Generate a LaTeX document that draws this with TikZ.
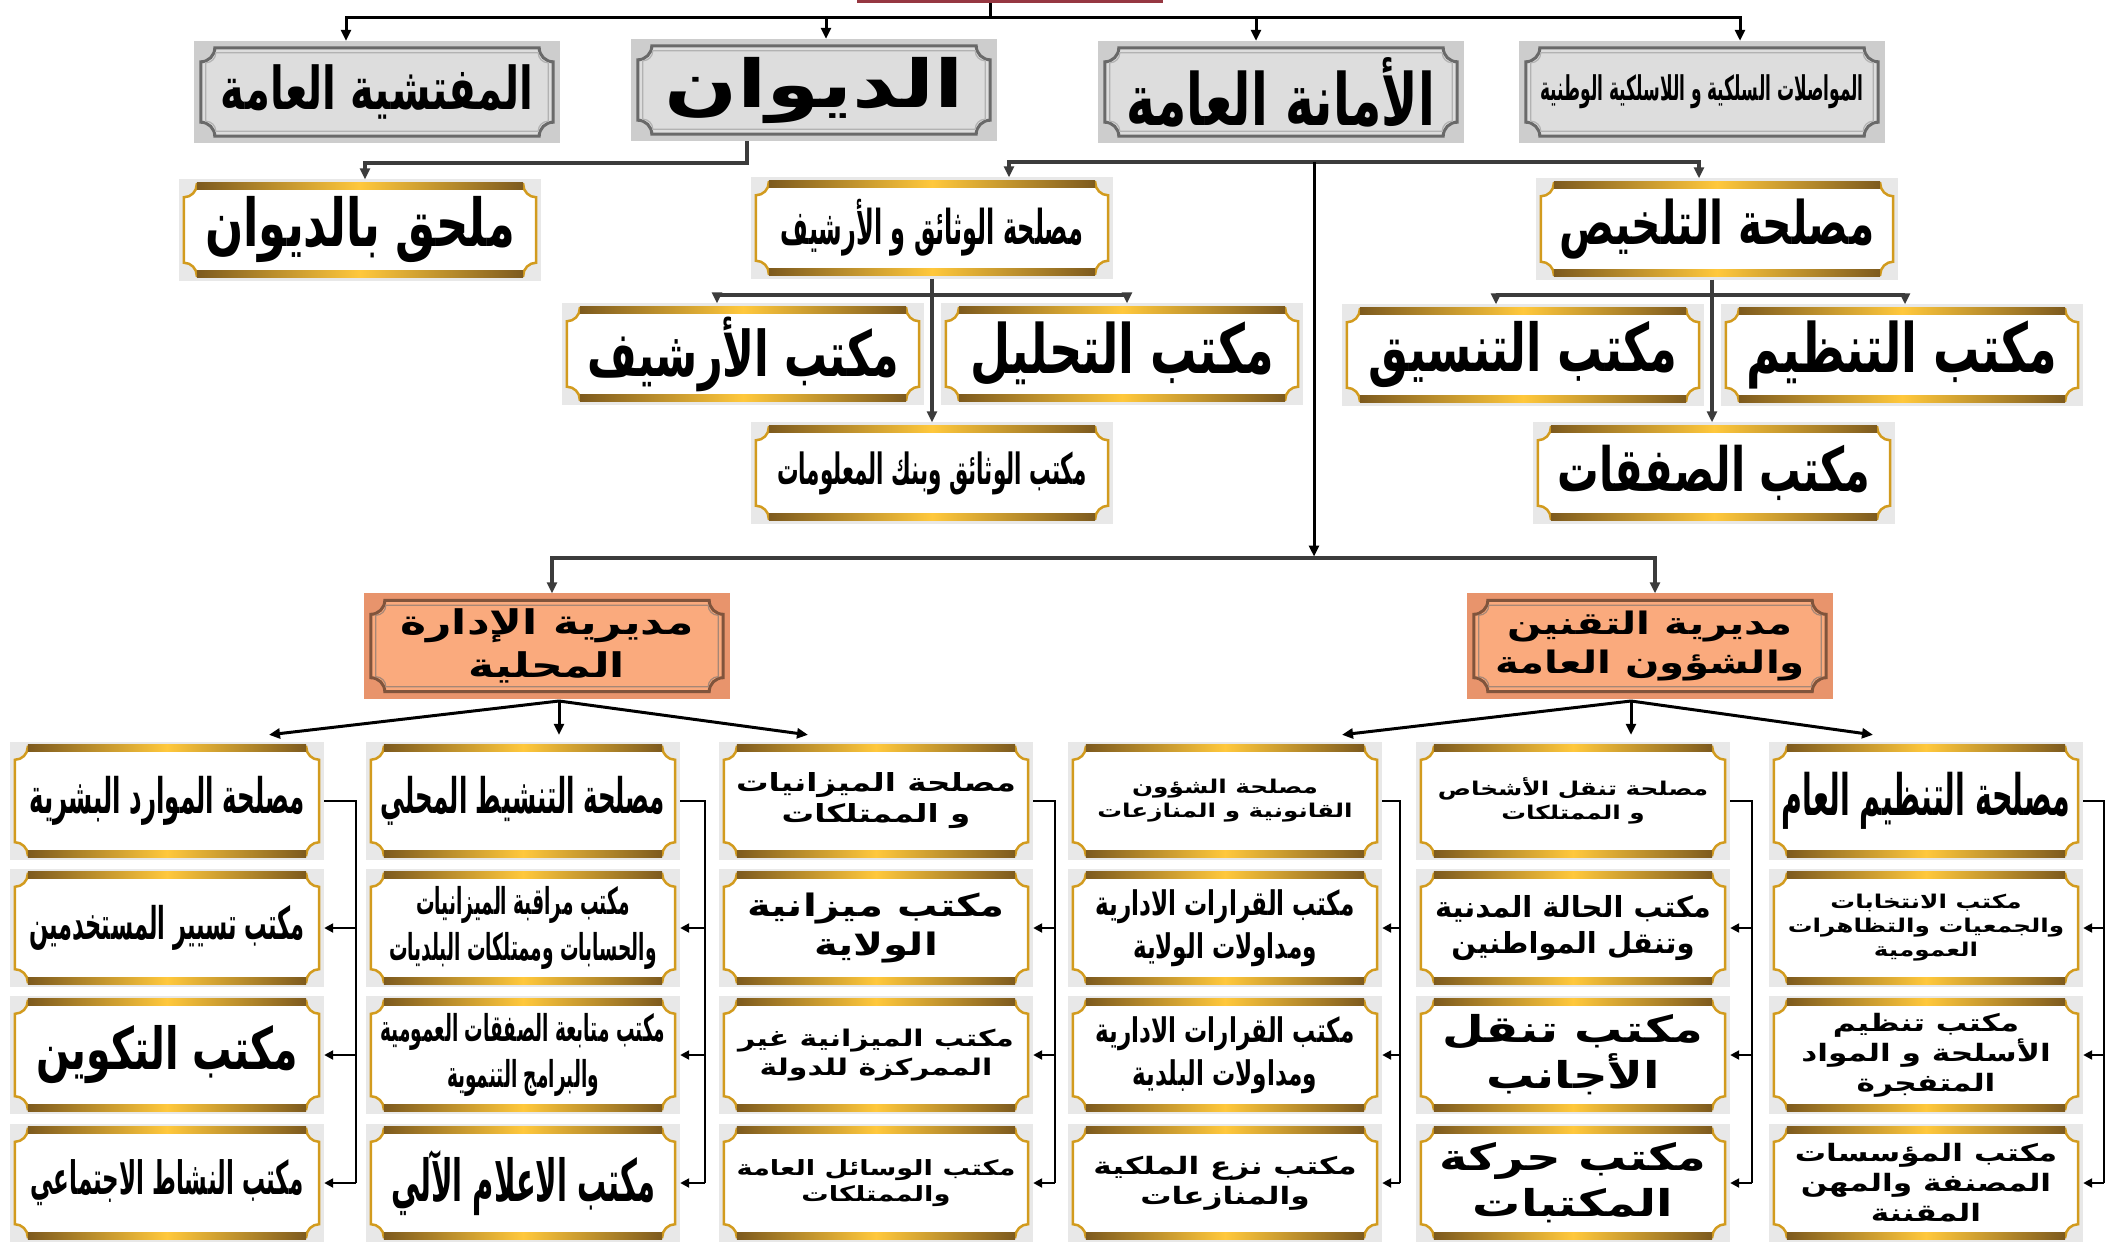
\documentclass[tikz,border=0pt]{standalone}
\usepackage{fontspec}
\newfontfamily\arX[Script=Arabic,FakeStretch=0.5]{DejaVu Sans}
\newfontfamily\arN[Script=Arabic,FakeStretch=0.68]{DejaVu Sans}
\newfontfamily\arM[Script=Arabic,FakeStretch=1.0]{DejaVu Sans}
\newfontfamily\arW[Script=Arabic,FakeStretch=1.3]{DejaVu Sans}
\TeXXeTstate=1
\usetikzlibrary{arrows.meta,backgrounds}
\definecolor{goldA}{RGB}{210,155,30}
\definecolor{goldD}{RGB}{125,90,30}
\definecolor{goldL}{RGB}{255,200,60}
\definecolor{grayF}{RGB}{221,221,221}
\definecolor{grayO}{RGB}{205,205,205}
\definecolor{grayL}{RGB}{105,105,105}
\definecolor{salF}{RGB}{250,170,125}
\definecolor{salO}{RGB}{232,148,108}
\definecolor{salL}{RGB}{128,84,60}
\definecolor{topred}{RGB}{150,55,65}
\definecolor{cornergray}{RGB}{232,232,232}
\definecolor{lineg}{RGB}{60,60,60}
\newcommand\ar[1]{\beginR #1\endR}
\newcommand\fsz[1]{\fontsize{#1}{\the\numexpr#1*5/4\relax}\selectfont}
\newcommand\notchp[3]{([xshift=#2+#3,yshift=-#2]#1.north west) -- ([xshift=-#2-#3,yshift=-#2]#1.north east) arc[start angle=180,end angle=270,radius=#3] -- ([xshift=-#2,yshift=#2+#3]#1.south east) arc[start angle=90,end angle=180,radius=#3] -- ([xshift=#2+#3,yshift=#2]#1.south west) arc[start angle=0,end angle=90,radius=#3] -- ([xshift=#2,yshift=-#2-#3]#1.north west) arc[start angle=270,end angle=360,radius=#3] -- cycle}
\newcommand\gldframe[1]{%
 \fill[cornergray] (#1.north west) rectangle (#1.south east);
 \path[fill=white,draw=goldA,line width=2.5pt] \notchp{#1}{5pt}{13pt};
 \shade[left color=goldD,right color=goldD,middle color=goldL] ([xshift=18pt,yshift=-3pt]#1.north west) rectangle ([xshift=-18pt,yshift=-10pt]#1.north east);
 \shade[left color=goldD,right color=goldD,middle color=goldL] ([xshift=18pt,yshift=3pt]#1.south west) rectangle ([xshift=-18pt,yshift=10pt]#1.south east);}
\newcommand\gryframe[1]{%
 \fill[grayO] (#1.north west) rectangle (#1.south east);
 \path[fill=grayF,draw=grayL,line width=3pt] \notchp{#1}{7pt}{14pt};
 \path[draw=gray!60,line width=1.2pt] \notchp{#1}{12pt}{10pt};}
\newcommand\salframe[1]{%
 \fill[salO] (#1.north west) rectangle (#1.south east);
 \path[fill=salF,draw=salL,line width=3pt] \notchp{#1}{7pt}{14pt};
 \path[draw=salL!70,line width=1.2pt] \notchp{#1}{12pt}{10pt};}
\begin{document}
\begin{tikzpicture}[x=1pt,y=-1pt,
 box/.style={inner sep=0pt,align=center,text=black},
 fx/.style={font=\arX\bfseries\fsz{#1}},
 fs/.style={font=\arN\bfseries\fsz{#1}},
 fm/.style={font=\arM\bfseries\fsz{#1}},
 fw/.style={font=\arW\bfseries\fsz{#1}},
 grybox/.style={box,minimum width=366pt,minimum height=102pt},
 gldbox/.style={box,minimum width=362pt,minimum height=101pt},
 salbox/.style={box,minimum width=366pt,minimum height=105pt},
 botbox/.style={box,minimum width=314pt,minimum height=118pt},
 ln/.style={line width=3pt,black},
 lnm/.style={line width=3.5pt,lineg},
 arr/.style={-{Triangle[length=11pt,width=10pt]},line width=3pt,black},
 arrm/.style={-{Triangle[length=11pt,width=10pt]},line width=3.5pt,lineg},
 arrs/.style={-{Triangle[length=9pt,width=9pt]},line width=2.5pt,black},
 rail/.style={line width=2.5pt,black}]
\useasboundingbox (0,0) rectangle (2127,1243);
\begin{scope}[on background layer]
 \fill[white] (0,0) rectangle (2127,1243);
\end{scope}
% top (cut) box
\node[fill=topred,minimum width=306pt,minimum height=8pt,inner sep=0pt,anchor=south] (top) at (1010,3) {};
% row 1
\node[grybox,fs=59] (insp) at (377,92) {\ar{المفتشية العامة}};
\node[grybox,fw=66] (diwan) at (814,90) {\ar{الديوان}};
\node[grybox,fs=72] (amana) at (1281,92) {\ar{الأمانة العامة}};
\node[grybox,fx=34] (telecom) at (1702,92) {\ar{المواصلات السلكية و اللاسلكية الوطنية}};
% row 2
\node[gldbox,fs=66] (mulhaq) at (360,230) {\ar{ملحق بالديوان}};
\node[gldbox,fx=48] (wathaiq) at (932,228) {\ar{مصلحة الوثائق و الأرشيف}};
\node[gldbox,fs=60] (talkhis) at (1717,229) {\ar{مصلحة التلخيص}};
% row 3
\node[gldbox,fs=63] (arshif) at (743,354) {\ar{مكتب الأرشيف}};
\node[gldbox,fs=68] (tahlil) at (1122,354) {\ar{مكتب التحليل}};
\node[gldbox,fs=66] (tansiq) at (1523,355) {\ar{مكتب التنسيق}};
\node[gldbox,fs=68] (tanzim) at (1902,355) {\ar{مكتب التنظيم}};
% row 4
\node[gldbox,fx=43] (mwathaiq) at (932,473) {\ar{مكتب الوثائق وبنك المعلومات}};
\node[gldbox,fs=61] (safaqat) at (1714,473) {\ar{مكتب الصفقات}};
% directorates
\node[salbox,fw=34] (salL) at (547,646) {\ar{مديرية الإدارة}\\\ar{المحلية}};
\node[salbox,fw=31] (salR) at (1650,646) {\ar{مديرية التقنين}\\\ar{والشؤون العامة}};
% bottom columns
\node[botbox,fx=49] (b11) at (167,801) {\ar{مصلحة الموارد البشرية}};
\node[botbox,fx=45] (b12) at (167,928) {\ar{مكتب تسيير المستخدمين}};
\node[botbox,fs=58] (b13) at (167,1055) {\ar{مكتب التكوين}};
\node[botbox,fx=46] (b14) at (167,1183) {\ar{مكتب النشاط الاجتماعي}};
\node[botbox,fx=49] (b21) at (523,801) {\ar{مصلحة التنشيط المحلي}};
\node[botbox,fx=37] (b22) at (523,928) {\ar{مكتب مراقبة الميزانيات}\\\ar{والحسابات وممتلكات البلديات}};
\node[botbox,fx=37] (b23) at (523,1055) {\ar{مكتب متابعة الصفقات العمومية}\\\ar{والبرامج التنموية}};
\node[botbox,fx=58] (b24) at (523,1183) {\ar{مكتب الاعلام الآلي}};
\node[botbox,fw=25] (b31) at (876,801) {\ar{مصلحة الميزانيات}\\\ar{و الممتلكات}};
\node[botbox,fw=31] (b32) at (876,928) {\ar{مكتب ميزانية}\\\ar{الولاية}};
\node[botbox,fw=23] (b33) at (876,1055) {\ar{مكتب الميزانية غير}\\\ar{الممركزة للدولة}};
\node[botbox,fw=21] (b34) at (876,1183) {\ar{مكتب الوسائل العامة}\\\ar{والممتلكات}};
\node[botbox,fw=19] (b41) at (1225,801) {\ar{مصلحة الشؤون}\\\ar{القانونية و المنازعات}};
\node[botbox,fs=34] (b42) at (1225,928) {\ar{مكتب القرارات الادارية}\\\ar{ومداولات الولاية}};
\node[botbox,fs=34] (b43) at (1225,1055) {\ar{مكتب القرارات الادارية}\\\ar{ومداولات البلدية}};
\node[botbox,fw=24] (b44) at (1225,1183) {\ar{مكتب نزع الملكية}\\\ar{والمنازعات}};
\node[botbox,fw=19] (b51) at (1573,801) {\ar{مصلحة تنقل الأشخاص}\\\ar{و الممتلكات}};
\node[botbox,fm=29] (b52) at (1573,928) {\ar{مكتب الحالة المدنية}\\\ar{وتنقل المواطنين}};
\node[botbox,fw=37] (b53) at (1573,1055) {\ar{مكتب تنقل}\\\ar{الأجانب}};
\node[botbox,fw=37] (b54) at (1573,1183) {\ar{مكتب حركة}\\\ar{المكتبات}};
\node[botbox,fx=57] (b61) at (1926,801) {\ar{مصلحة التنظيم العام}};
\node[botbox,fw=19] (b62) at (1926,928) {\ar{مكتب الانتخابات}\\\ar{والجمعيات والتظاهرات}\\\ar{العمومية}};
\node[botbox,fw=24] (b63) at (1926,1055) {\ar{مكتب تنظيم}\\\ar{الأسلحة و المواد}\\\ar{المتفجرة}};
\node[botbox,fw=24] (b64) at (1926,1183) {\ar{مكتب المؤسسات}\\\ar{المصنفة والمهن}\\\ar{المقننة}};
% frames
\begin{scope}[on background layer]
 \foreach \n in {insp,diwan,amana,telecom} {\gryframe{\n}}
 \foreach \n in {mulhaq,wathaiq,talkhis,arshif,tahlil,tansiq,tanzim,mwathaiq,safaqat,
   b11,b12,b13,b14,b21,b22,b23,b24,b31,b32,b33,b34,b41,b42,b43,b44,b51,b52,b53,b54,b61,b62,b63,b64} {\gldframe{\n}}
 \foreach \n in {salL,salR} {\salframe{\n}}
\end{scope}
% connectors: top level
\coordinate (hub1) at (990,17);
\draw[ln] (top.south -| hub1) -- (hub1);
\draw[arr] (hub1) -| (insp.north -| 346,0);
\draw[arr] (hub1) -| (diwan.north -| 826,0);
\draw[arr] (hub1) -| (amana.north -| 1256,0);
\draw[arr] (hub1) -| (telecom.north -| 1740,0);
% diwan -> mulhaq
\draw[arrm] (diwan.south -| 747,0) |- (556,163) -| (mulhaq.north -| 365,0);
% amana bar
\coordinate (hub2) at (1314,162);
\coordinate (hub3) at (1314,558);
\draw[arrm] (hub2) -| (wathaiq.north -| 1009,0);
\draw[arrm] (hub2) -| (talkhis.north -| 1699,0);
\draw[arr] (hub2) -- ([yshift=1.5pt]hub3);
\draw[arrm] (hub3) -| (salL.north -| 552,0);
\draw[arrm] (hub3) -| (salR.north -| 1655,0);
% wathaiq
\coordinate (hub4) at (932,295);
\draw[lnm] (wathaiq.south) -- (hub4);
\draw[arrm] (hub4) -- (mwathaiq.north);
\draw[arrm] (hub4) -| (arshif.north -| 717,0);
\draw[arrm] (hub4) -| (tahlil.north -| 1127,0);
% talkhis
\coordinate (hub5) at (1712,295);
\draw[lnm] (talkhis.south -| hub5) -- (hub5);
\draw[arrm] (hub5) -- (safaqat.north -| hub5);
\draw[arrm] (hub5) -| (tansiq.north -| 1496,0);
\draw[arrm] (hub5) -| (tanzim.north -| 1905,0);
% fans
\coordinate (fanL) at (559,701);
\coordinate (fanR) at (1631,701);
\draw[arr] (fanL) -- ([yshift=7pt]b11.north -| 269,0);
\draw[arr] (fanL) -- ([yshift=7pt]b21.north -| 559,0);
\draw[arr] (fanL) -- ([yshift=7pt]b31.north -| 808,0);
\draw[arr] (fanR) -- ([yshift=7pt]b41.north -| 1342,0);
\draw[arr] (fanR) -- ([yshift=7pt]b51.north -| 1631,0);
\draw[arr] (fanR) -- ([yshift=7pt]b61.north -| 1873,0);
% rails
\foreach \c/\r in {1/356,2/705,3/1055,4/1400,5/1752,6/2104} {
 \draw[rail] (b\c1.east) -| (\r,1183);
 \foreach \k in {2,3,4} {\draw[arrs] (b\c\k.east -| \r,0) -- (b\c\k.east);}
}
\end{tikzpicture}
\end{document}
